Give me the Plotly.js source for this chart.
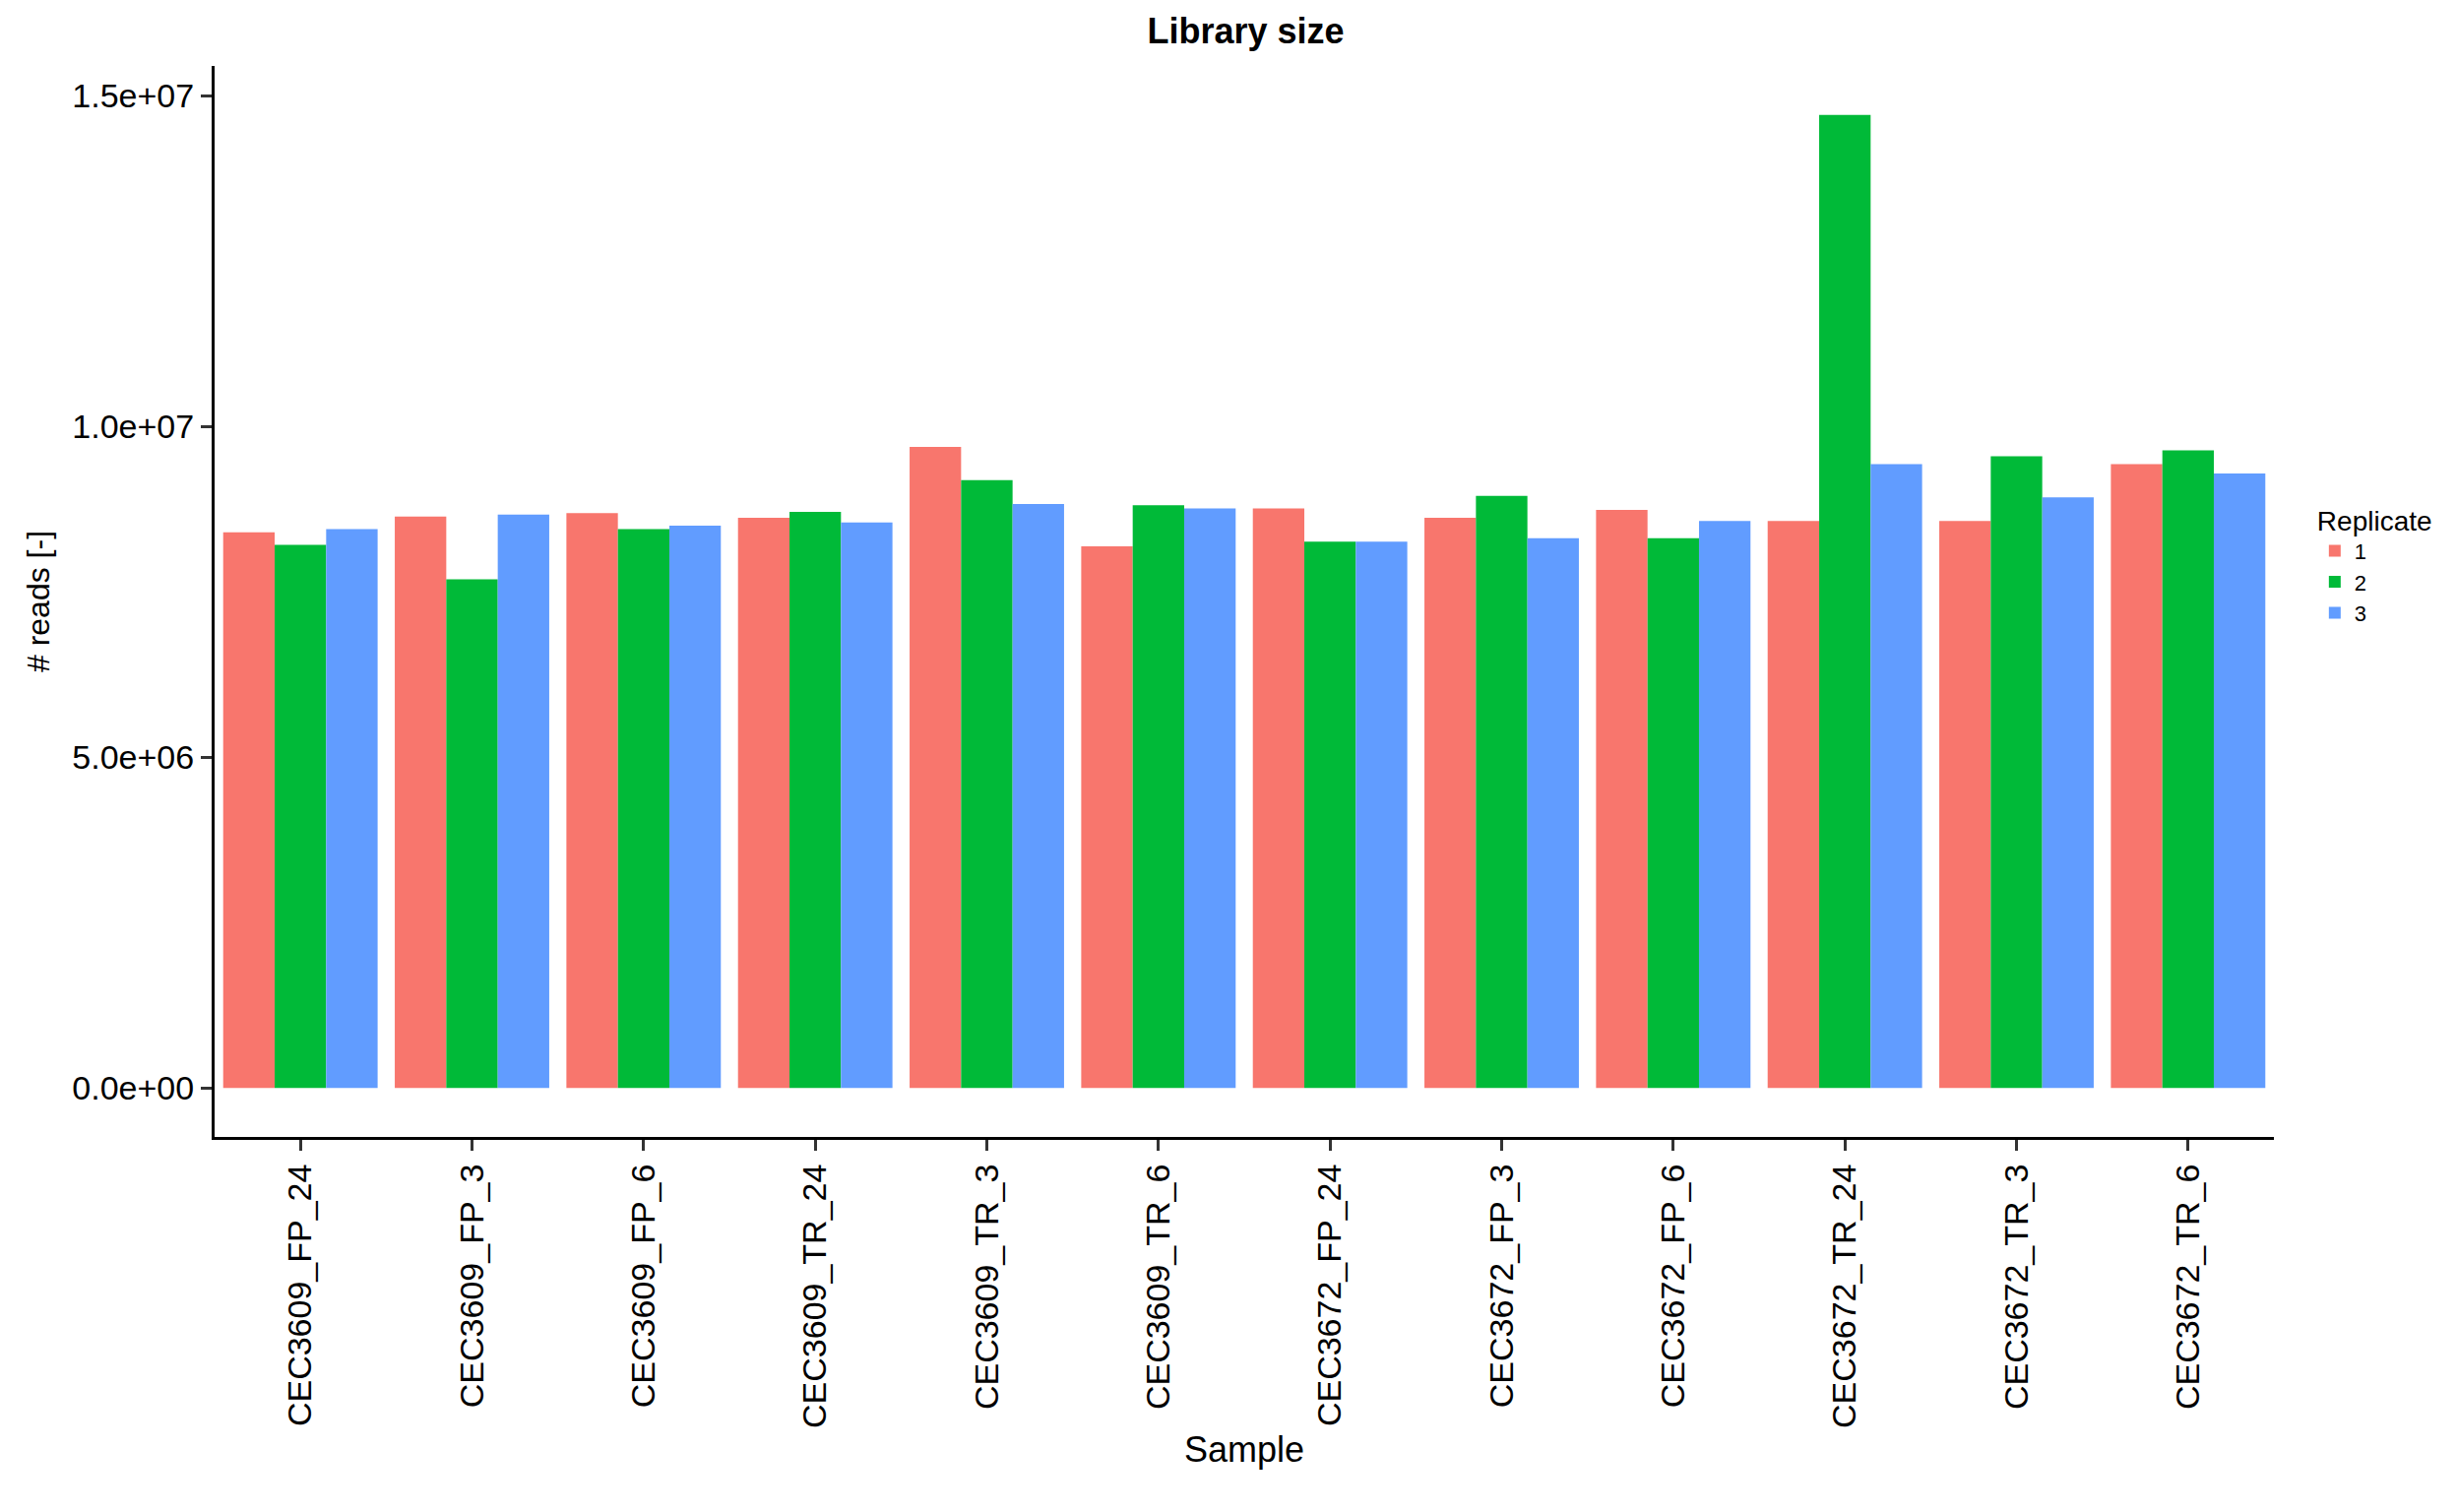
<!DOCTYPE html>
<html>
<head>
<meta charset="utf-8">
<script src="https://cdn.plot.ly/plotly-3.0.1.min.js"></script>
<style>body{margin:0;background:#fff}</style>
</head>
<body>
<div id="chart" style="width:2496px;height:1536px"></div>
<script>
// samples and read counts per replicate
var samples = ['CEC3609_FP_24', 'CEC3609_FP_3', 'CEC3609_FP_6', 'CEC3609_TR_24', 'CEC3609_TR_3', 'CEC3609_TR_6',
               'CEC3672_FP_24', 'CEC3672_FP_3', 'CEC3672_FP_6', 'CEC3672_TR_24', 'CEC3672_TR_3', 'CEC3672_TR_6'];
var rep1 = [8.40e6, 8.64e6, 8.69e6, 8.62e6, 9.69e6, 8.19e6, 8.76e6, 8.62e6, 8.74e6, 8.57e6, 8.57e6, 9.43e6];
var rep2 = [8.21e6, 7.69e6, 8.45e6, 8.71e6, 9.19e6, 8.81e6, 8.26e6, 8.95e6, 8.31e6, 14.71e6, 9.55e6, 9.64e6];
var rep3 = [8.45e6, 8.67e6, 8.50e6, 8.55e6, 8.83e6, 8.76e6, 8.26e6, 8.31e6, 8.57e6, 9.43e6, 8.93e6, 9.29e6];
var yTicks = [0, 5e6, 1e7, 1.5e7];
var yLabels = ['0.0e+00', '5.0e+06', '1.0e+07', '1.5e+07'];

var data = [
  {x: samples, y: rep1, name: '1', type: 'bar', marker: {color: '#F8766D'}},
  {x: samples, y: rep2, name: '2', type: 'bar', marker: {color: '#00BA38'}},
  {x: samples, y: rep3, name: '3', type: 'bar', marker: {color: '#619CFF'}}
];

var layout = {
  width: 2496, height: 1536,
  margin: {l: 218, r: 186, t: 67, b: 381},
  font: {family: 'Liberation Sans, Arial, sans-serif', color: '#000'},
  paper_bgcolor: '#fff', plot_bgcolor: '#fff',
  barmode: 'group', bargap: 0.1, bargroupgap: 0,
  title: {text: '<b>Library size</b>', font: {size: 36}, x: 0.507, xanchor: 'center', y: 0.988, yanchor: 'top'},
  xaxis: {
    title: {text: 'Sample', font: {size: 36}, standoff: 10},
    tickangle: -90, tickfont: {size: 34}, showgrid: false, zeroline: false,
    showline: true, linecolor: '#000', linewidth: 3,
    ticks: 'outside', ticklen: 11, tickwidth: 3, tickcolor: '#333'
  },
  yaxis: {
    title: {text: '# reads [-]', font: {size: 32}, standoff: 14},
    range: [-0.74e6, 15.45e6], tickvals: yTicks, ticktext: yLabels,
    tickfont: {size: 34}, showgrid: false, zeroline: false,
    showline: true, linecolor: '#000', linewidth: 3,
    ticks: 'outside', ticklen: 11, tickwidth: 3, tickcolor: '#333'
  },
  legend: {
    title: {text: 'Replicate', font: {size: 28}},
    font: {size: 22}, x: 1.02, xanchor: 'left', y: 0.6, yanchor: 'top',
    itemsizing: 'constant', tracegroupgap: 0
  }
};

Plotly.newPlot('chart', data, layout, {staticPlot: true});
</script>
</body>
</html>
